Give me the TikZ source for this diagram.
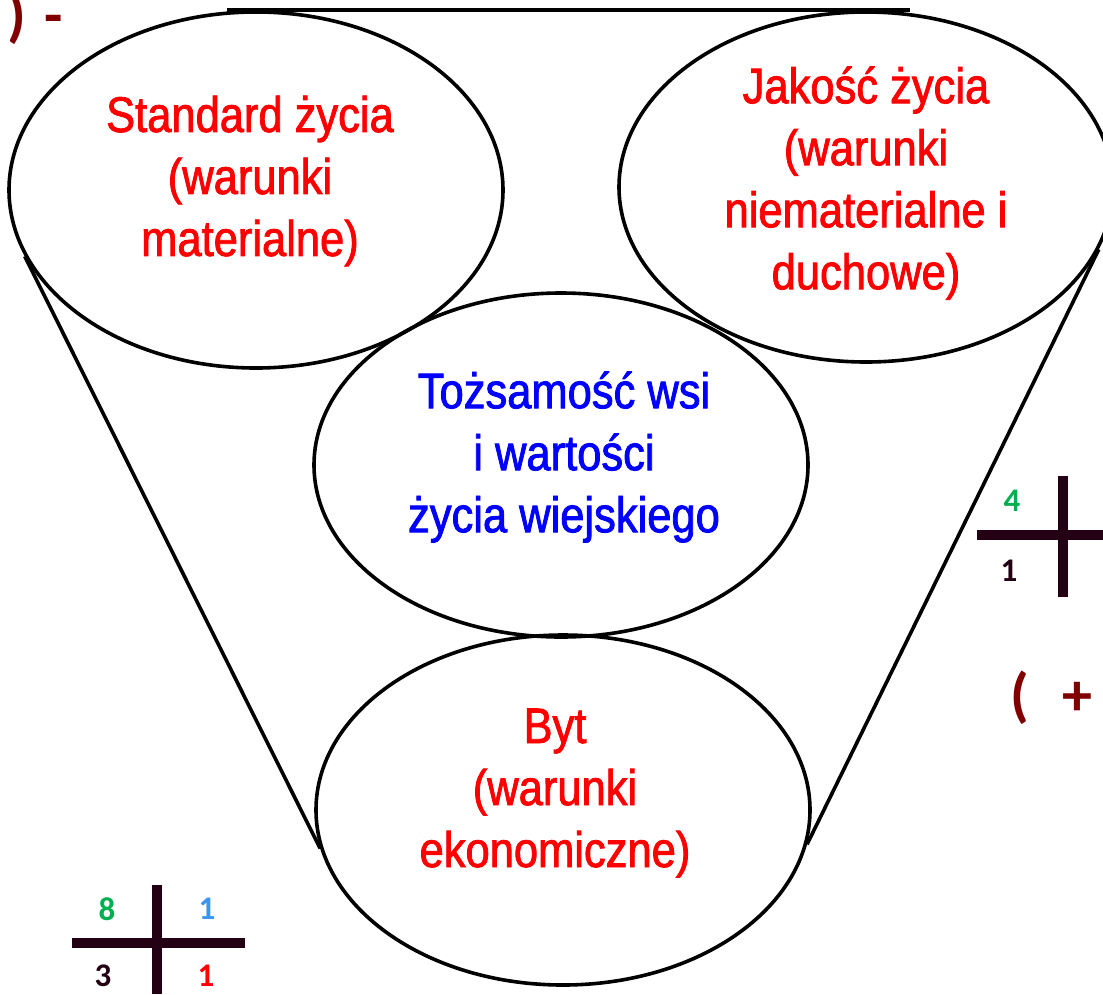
\documentclass[tikz,border=0pt]{standalone}
\usepackage{fontspec}
\setmainfont{Liberation Sans}[FakeStretch=0.87,FakeBold=1.6]
\newfontfamily\calibri{Carlito}
\usetikzlibrary{shapes.geometric}
\definecolor{maroonc}{RGB}{128,0,0}
\definecolor{crossdark}{RGB}{35,0,20}
\definecolor{greenc}{RGB}{0,176,80}
\definecolor{lightbluec}{RGB}{58,150,240}
\definecolor{redc}{RGB}{255,0,0}
\definecolor{bluec}{RGB}{0,0,255}
\begin{document}
\begin{tikzpicture}[x=1pt,y=-1pt,
  ell/.style={draw=black, line width=3.6pt, ellipse, inner sep=0pt},
  conn/.style={draw=black, line width=3.6pt},
  lbl/.style={font=\fontsize{50}{62}\selectfont, align=center, inner sep=0pt},
  corner/.style={font=\calibri\bfseries\fontsize{60}{72}\selectfont, text=maroonc, inner sep=0pt, anchor=base},
  digit/.style={font=\calibri\bfseries\fontsize{33}{38}\selectfont, inner sep=0pt},
  bar/.style={draw=crossdark, line width=10pt}]
\useasboundingbox (0,0) rectangle (1103,994);
% ellipses
\node[ell, minimum width=494pt, minimum height=356pt] (e1) at (256,190) {};
\node[ell, minimum width=494pt, minimum height=350pt] (e2) at (866,187) {};
\node[ell, minimum width=494pt, minimum height=344pt] (e3) at (561,465) {};
\node[ell, minimum width=494pt, minimum height=350pt] (e4) at (563,810) {};
% connectors
\draw[conn] ([xshift=-29pt]e1.north) -- ([xshift=44pt]e2.north);
\draw[conn] (e1.196) -- (e4.189);
\draw[conn] (e2.345) -- (e4.352);
% texts
\node[lbl, text=redc] (t1) at (250,181) {Standard życia\\(warunki\\materialne)};
\node[lbl, text=redc] (t2) at (866,183) {Jakość życia\\(warunki\\niematerialne i\\duchowe)};
\node[lbl, text=bluec] (t3) at (564,457) {Tożsamość wsi\\i wartości\\życia wiejskiego};
\node[lbl, text=redc] (t4) at (555,793) {Byt\\(warunki\\ekonomiczne)};
% corner marks
\node[corner] (p1) at (16.5,35) {)};
\node[corner] (m1) at (53.5,35) {-};
\node[corner] (p2) at (1019.5,715) {(};
\node[corner] (pl) at (1077,715) {+};
% crosses
\coordinate (h1a) at (72,943); \coordinate (h1b) at (245,943);
\coordinate (v1a) at (157,885); \coordinate (v1b) at (157,994);
\draw[bar] (h1a) -- (h1b);
\draw[bar] (v1a) -- (v1b);
\coordinate (h2a) at (977,535); \coordinate (h2b) at (1103,535);
\coordinate (v2a) at (1062.5,476); \coordinate (v2b) at (1062.5,597);
\draw[bar] (h2a) -- (h2b);
\draw[bar] (v2a) -- (v2b);
% digits
\node[digit, text=greenc] (d8) at (107,909) {8};
\node[digit, text=lightbluec] (d1b) at (207,909) {1};
\node[digit, text=crossdark] (d3) at (103,976) {3};
\node[digit, text=redc] (d1r) at (206,976) {1};
\node[digit, text=greenc] (d4) at (1012,501) {4};
\node[digit, text=crossdark] (d1d) at (1009,571) {1};
\end{tikzpicture}
\end{document}
